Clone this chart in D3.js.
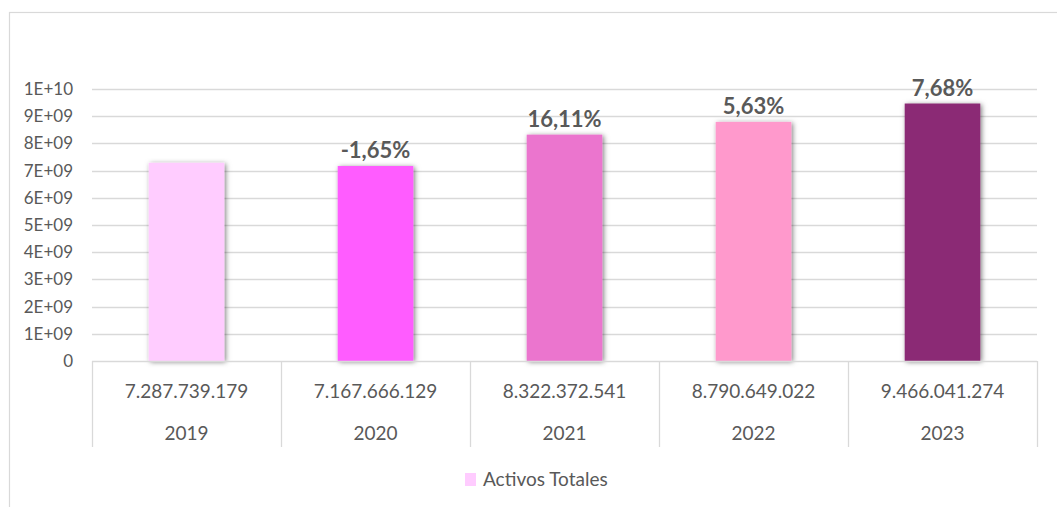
<!DOCTYPE html>
<html>
<head>
<meta charset="utf-8">
<script src="https://cdn.jsdelivr.net/npm/d3@7"></script>
<style>
  html, body { margin: 0; padding: 0; background: #fff; }
  svg { display: block; font-family: Lato, "Open Sans", sans-serif; }
</style>
</head>
<body>
<svg id="chart" width="1057" height="507"></svg>
<script>
// Total assets per year, with year-over-year growth (%)
const years = ["2019", "2020", "2021", "2022", "2023"];
const activosTotales = [7287739179, 7167666129, 8322372541, 8790649022, 9466041274];
const variacion = [null, -1.65, 16.11, 5.63, 7.68];
const barColors = ["#FFCCFF", "#FF5BFF", "#EB74CE", "#FF99CC", "#8B2C74"];
const yTicks = [0, 1e9, 2e9, 3e9, 4e9, 5e9, 6e9, 7e9, 8e9, 9e9, 1e10];
const seriesName = "Activos Totales";

const svg = d3.select("#chart");
const textColor = "#595959";
const lineColor = "#D9D9D9";

const plot = { left: 92, right: 1037, top: 89, bottom: 361 };

// outer chart-area frame
svg.append("rect")
  .attr("x", 9.5).attr("y", 12.5)
  .attr("width", 1100).attr("height", 600)
  .attr("fill", "none").attr("stroke", lineColor).attr("stroke-width", 1.2);

const x = d3.scaleBand().domain(years).range([plot.left, plot.right]).padding(0);
const y = d3.scaleLinear().domain([0, 1e10]).range([plot.bottom, plot.top]);

// soft drop shadow for the columns
const defs = svg.append("defs");
const f = defs.append("filter").attr("id", "shadow")
  .attr("x", "-30%").attr("y", "-10%").attr("width", "160%").attr("height", "120%");
f.append("feDropShadow").attr("dx", 1.5).attr("dy", 1).attr("stdDeviation", 2.4)
  .attr("flood-color", "#000").attr("flood-opacity", 0.5);

// gridlines
svg.append("g").selectAll("line").data(yTicks.filter(d => d > 0)).join("line")
  .attr("x1", plot.left).attr("x2", plot.right)
  .attr("y1", d => Math.round(y(d)) + 0.5).attr("y2", d => Math.round(y(d)) + 0.5)
  .attr("stroke", lineColor).attr("stroke-width", 1.3);

// y axis labels
const fmtTick = d => {
  if (d === 0) return "0";
  const e = Math.floor(Math.log10(d));
  const m = d / Math.pow(10, e);
  return m + "E+" + String(e).padStart(2, "0");
};
const yAxis = d3.axisLeft(y).tickValues(yTicks).tickFormat(fmtTick).tickSize(0).tickPadding(19);
const gy = svg.append("g").attr("transform", `translate(${plot.left},0)`).call(yAxis);
gy.select(".domain").remove();
gy.selectAll("text").attr("fill", textColor).style("font-size", "17px")
  .style("font-family", "Lato, sans-serif");

// columns
const barW = x.bandwidth() * 0.4;
svg.append("g").selectAll("rect").data(years).join("rect")
  .attr("x", (d) => x(d) + (x.bandwidth() - barW) / 2)
  .attr("width", barW)
  .attr("y", (d, i) => y(activosTotales[i]))
  .attr("height", (d, i) => y(0) - y(activosTotales[i]))
  .attr("fill", (d, i) => barColors[i])
  .attr("filter", "url(#shadow)");

// growth labels
const fmtPct = v => v.toFixed(2).replace(".", ",") + "%";
svg.append("g").selectAll("text").data(years.map((d, i) => ({ d, i })).filter(o => variacion[o.i] !== null))
  .join("text")
  .attr("x", o => x(o.d) + x.bandwidth() / 2)
  .attr("y", o => y(activosTotales[o.i]) - 8)
  .attr("text-anchor", "middle")
  .attr("fill", textColor)
  .style("font-size", "22px").style("font-weight", "bold")
  .text(o => fmtPct(variacion[o.i]));

// data table under the axis
const es = d3.formatLocale({ decimal: ",", thousands: ".", grouping: [3], currency: ["", ""] });
const fmtVal = es.format(",d");
const table = svg.append("g");
table.append("line")
  .attr("x1", plot.left).attr("x2", plot.right)
  .attr("y1", plot.bottom + 0.5).attr("y2", plot.bottom + 0.5)
  .attr("stroke", lineColor).attr("stroke-width", 1.3);
const edges = years.map(d => x(d)).concat([plot.right]);
table.selectAll("line.v").data(edges).join("line").attr("class", "v")
  .attr("x1", d => Math.round(d) + 0.5).attr("x2", d => Math.round(d) + 0.5)
  .attr("y1", plot.bottom).attr("y2", 447)
  .attr("stroke", lineColor).attr("stroke-width", 1.3);
table.selectAll("text.val").data(years).join("text").attr("class", "val")
  .attr("x", d => x(d) + x.bandwidth() / 2).attr("y", 398)
  .attr("text-anchor", "middle").attr("fill", textColor).style("font-size", "19px")
  .text((d, i) => fmtVal(activosTotales[i]));
table.selectAll("text.yr").data(years).join("text").attr("class", "yr")
  .attr("x", d => x(d) + x.bandwidth() / 2).attr("y", 440)
  .attr("text-anchor", "middle").attr("fill", textColor).style("font-size", "19px")
  .text(d => d);

// legend
const lg = svg.append("g").attr("transform", "translate(465,473)");
lg.append("rect").attr("width", 11).attr("height", 13).attr("fill", barColors[0]);
lg.append("text").attr("x", 18).attr("y", 13).attr("fill", textColor)
  .style("font-size", "19px").text(seriesName);
</script>
</body>
</html>
